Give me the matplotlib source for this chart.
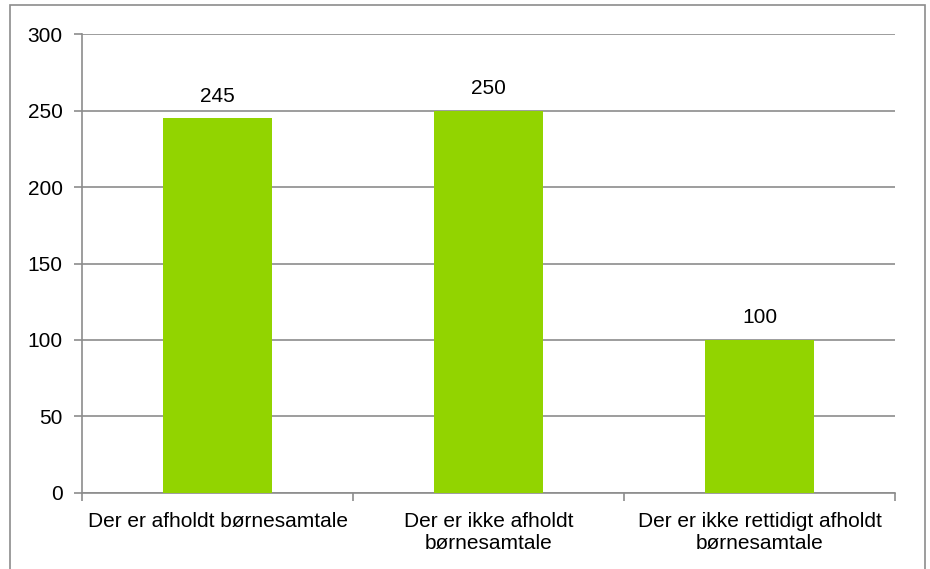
import matplotlib.pyplot as plt
from matplotlib.patches import Rectangle

categories = ["Der er afholdt børnesamtale",
              "Der er ikke afholdt\nbørnesamtale",
              "Der er ikke rettidigt afholdt\nbørnesamtale"]
values = [245, 250, 100]
yticks = [0, 50, 100, 150, 200, 250, 300]

plt.rcParams['font.family'] = ['Liberation Sans', 'DejaVu Sans']

fig = plt.figure(figsize=(9.3, 5.69), dpi=100)
ax = fig.add_axes([0.0882, 0.1336, 0.8742, 0.8066])

# outer chart border
fig.patches.append(Rectangle((10 / 930, -0.1), 915 / 930, 1.1 + (569 - 5) / 569 - 1,
                             transform=fig.transFigure, fill=False,
                             edgecolor="#8c8c8c", linewidth=1.2))

x = list(range(len(categories)))
bars = ax.bar(x, values, width=0.4, color="#92D400", zorder=3)
for b, v in zip(bars, values):
    ax.annotate(str(v), (b.get_x() + b.get_width() / 2, v), xytext=(0, 9),
                textcoords="offset points", ha="center", va="bottom", fontsize=15)

ax.set_xlim(-0.5, 2.5)
ax.set_ylim(0, 300)
ax.set_yticks(yticks)
ax.set_yticklabels([str(t) for t in yticks], fontsize=15)
ax.yaxis.grid(True, color="#8c8c8c", linewidth=1.2, zorder=0)

ax.set_xticks([-0.5, 0.5, 1.5, 2.5])
ax.set_xticklabels([])
ax.set_xticks(x, minor=True)
ax.set_xticklabels(categories, minor=True, fontsize=15, linespacing=1.15)
ax.tick_params(axis="x", which="minor", length=0, pad=14)
ax.tick_params(axis="x", which="major", length=6, color="#8c8c8c", width=1.2)
ax.tick_params(axis="y", length=6, color="#8c8c8c", width=1.2, pad=8)

for s in ["top", "right"]:
    ax.spines[s].set_visible(False)
for s in ["left", "bottom"]:
    ax.spines[s].set_color("#8c8c8c")
    ax.spines[s].set_linewidth(1.2)

fig.savefig("out.png", dpi=100)
